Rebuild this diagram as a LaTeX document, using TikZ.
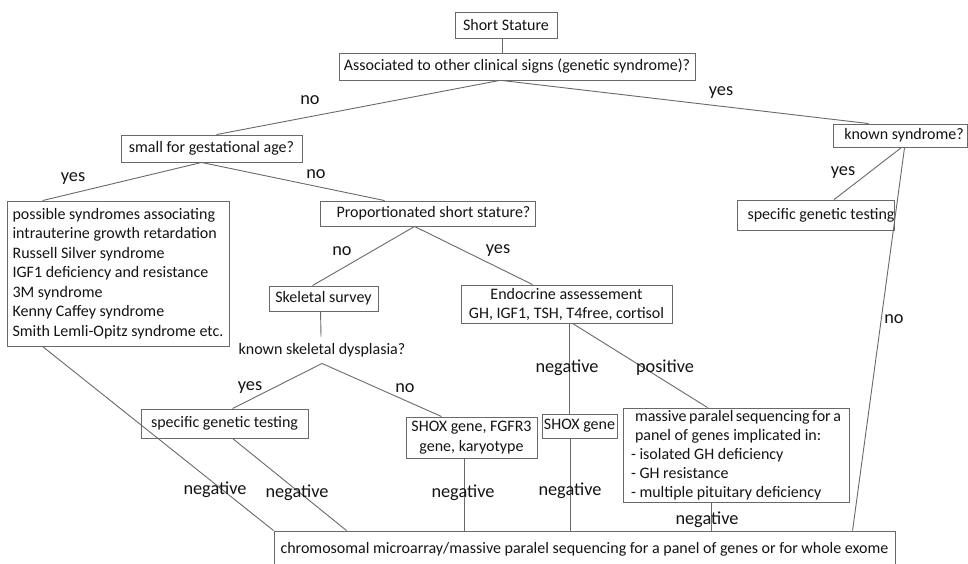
\documentclass[tikz,border=0pt]{standalone}
\usepackage{fontspec}
\setmainfont{Carlito}
\definecolor{linec}{RGB}{105,105,105}
\definecolor{txtc}{RGB}{20,20,20}
\tikzset{
  box/.style={draw=linec, line width=0.9pt, inner sep=0pt, text=txtc,
    font=\fontsize{16}{19}\selectfont, align=center},
  lab/.style={inner sep=0pt, text=txtc, font=\fontsize{18.3}{20}\selectfont},
  conn/.style={draw=linec, line width=0.9pt},
}
\begin{document}
\begin{tikzpicture}[x=1pt,y=-1pt]
\useasboundingbox[fill=white] (0,0) rectangle (968,563);
% boxes
\node[box, minimum width=102, minimum height=26] (ss) at (506,25) {Short Stature};
\node[box, minimum width=356, minimum height=27] (assoc) at (517,66.5) {Associated to other clinical signs (genetic syndrome)?};
\node[box, minimum width=181, minimum height=27] (sga) at (211.5,148.5) {small for gestational age?};
\node[box, minimum width=134, minimum height=23] (ks) at (900,135.5) {\hspace{8pt}known syndrome?};
\node[box, minimum width=154, minimum height=30] (sgtR) at (816,215) {\hspace{10pt}specific genetic testing};
\node[box, minimum width=222, minimum height=145, align=left, font=\fontsize{16}{19.5}\selectfont] (sgaY) at (118,273.5) {possible syndromes associating\\intrauterine growth retardation\\Russell Silver syndrome\\IGF1 deficiency and resistance\\3M syndrome\\Kenny Caffey syndrome\\Smith Lemli-Opitz syndrome etc.};
\node[box, minimum width=215, minimum height=25] (prop) at (427.5,213.5) {\hspace{12pt}Proportionated short stature?};
\node[box, minimum width=109, minimum height=25] (skel) at (323.5,298.5) {Skeletal survey};
\node[box, draw=none, minimum height=26] (ksd) at (322,350) {known skeletal dysplasia?};
\node[box, minimum width=211, minimum height=38] (endo) at (566.5,304) {Endocrine assessement\hspace{12pt}\\GH, IGF1, TSH, T4free, cortisol};
\node[box, minimum width=167, minimum height=29] (sgtL) at (224.5,423.5) {specific genetic testing};
\node[box, minimum width=131, minimum height=41, font=\fontsize{16}{20}\selectfont] (shoxF) at (471.5,437.5) {SHOX gene, FGFR3\\gene, karyotype};
\node[box, minimum width=75, minimum height=24] (shox) at (579.5,426) {SHOX gene};
\node[box, minimum width=226, minimum height=94, align=left] (mps) at (736,455) {\hspace{4pt}\makebox[206pt][s]{massive paralel sequencing for a}\hspace{10pt}\\\hspace{4pt}panel of genes implicated in:\\- isolated GH deficiency\\- GH resistance\\- multiple pituitary deficiency};
\node[box, minimum width=621, minimum height=36] (bot) at (584.5,549) {chromosomal microarray/massive paralel sequencing for a panel of genes or for whole exome};
% connectors
\draw[conn] ([xshift=48]ss.south west) -- ([xshift=164]assoc.north west);
\draw[conn] ([xshift=161]assoc.south west) -- ([xshift=96]sga.north west);
\draw[conn] ([xshift=163]assoc.south west) -- ([xshift=36]ks.north west);
\draw[conn] ([xshift=81]sga.south west) -- ([xshift=36]sgaY.north west);
\draw[conn] ([xshift=81]sga.south west) -- ([xshift=65]prop.north west);
\draw[conn] ([xshift=69]ks.south west) -- ([xshift=97]sgtR.north west);
\draw[conn] ([xshift=72]ks.south west) -- ([xshift=579]bot.north west);
\draw[conn] ([xshift=95]prop.south west) -- ([xshift=44]skel.north west);
\draw[conn] ([xshift=95]prop.south west) -- ([xshift=72]endo.north west);
\draw[conn] ([xshift=52]skel.south west) -- ([xshift=-1]ksd.north);
\draw[conn] (ksd.south) -- ([xshift=92]sgtL.north west);
\draw[conn] (ksd.south) -- ([xshift=36]shoxF.north west);
\draw[conn] ([xshift=92]sgtL.south west) -- ([xshift=73]bot.north west);
\draw[conn] ([xshift=36]sgaY.south west) -- (bot.north west);
\draw[conn] ([xshift=59]shoxF.south west) -- ([xshift=191]bot.north west);
\draw[conn] ([xshift=109]endo.south west) -- ([xshift=28]shox.north west);
\draw[conn] ([xshift=29]shox.south west) -- ([xshift=297]bot.north west);
\draw[conn] ([xshift=112]endo.south west) -- ([xshift=85]mps.north west);
\draw[conn] ([xshift=89]mps.south west) -- ([xshift=438]bot.north west);
% labels
\node[lab] (l1) at (310,100) {no};
\node[lab] (l2) at (721,93) {yes};
\node[lab] (l3) at (73,179) {yes};
\node[lab] (l4) at (316,174) {no};
\node[lab] (l5) at (843,173) {yes};
\node[lab] (l6) at (894,319) {no};
\node[lab] (l7) at (342,251) {no};
\node[lab] (l8) at (498,251) {yes};
\node[lab] (l9) at (250,388) {yes};
\node[lab] (l10) at (405,388) {no};
\node[lab] (l11) at (215,490) {negative};
\node[lab] (l12) at (297,493) {negative};
\node[lab] (l13) at (463,493) {negative};
\node[lab] (l14) at (567,368) {negative};
\node[lab] (l15) at (665,368) {positive};
\node[lab] (l16) at (570,491) {negative};
\node[lab] (l17) at (707,520) {negative};
\end{tikzpicture}
\end{document}
